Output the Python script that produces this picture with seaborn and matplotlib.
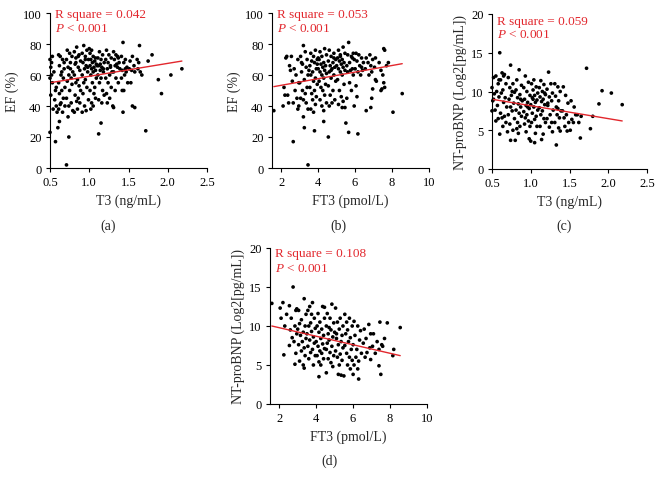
import matplotlib
matplotlib.use("Agg")
import matplotlib.pyplot as plt
import seaborn as sns
import pandas as pd

sns.set_theme(style="ticks")
plt.rcParams["font.family"] = ["Liberation Serif", "DejaVu Serif"]
plt.rcParams["mathtext.fontset"] = "custom"
plt.rcParams["mathtext.it"] = "Liberation Serif:italic"
plt.rcParams["mathtext.rm"] = "Liberation Serif"

# ---------------- data ----------------
# Panel (a): T3 vs EF
a_x = [0.50,0.52,0.51,0.55,0.50,0.53,0.57,0.51,0.56,0.58,0.54,0.59,0.50,0.57,0.60,0.53,0.52,0.58,
       0.61,0.63,0.66,0.62,0.68,0.64,0.67,0.61,0.69,0.65,0.62,0.67,0.64,0.69,0.61,0.66,0.62,0.63,0.65,0.68,
       0.72,0.75,0.78,0.71,0.76,0.73,0.79,0.74,0.77,0.72,0.78,0.75,0.71,0.77,0.74,0.79,0.73,0.74,0.71,0.76,
       0.84,0.81,0.87,0.83,0.89,0.82,0.86,0.88,0.81,0.85,0.83,0.87,0.89,0.82,0.86,0.84,0.88,0.85,0.81,0.83,0.86,
       0.93,0.97,0.91,0.95,0.99,0.92,0.96,0.94,0.98,0.91,0.95,0.93,0.97,0.92,0.99,0.94,0.96,0.91,0.98,0.95,
       1.00,1.03,1.01,1.05,1.02,1.07,1.04,1.09,1.01,1.06,1.03,1.08,1.05,1.02,1.09,1.04,1.07,1.01,1.06,1.08,1.03,1.05,1.02,1.08,1.10,
       1.13,1.17,1.11,1.15,1.19,1.12,1.16,1.14,1.18,1.11,1.15,1.13,1.17,1.19,1.12,1.16,1.15,1.12,1.14,1.18,
       1.22,1.25,1.28,1.21,1.24,1.27,1.23,1.29,1.26,1.21,1.24,1.28,1.22,1.26,1.23,1.27,
       1.31,1.34,1.37,1.32,1.38,1.35,1.33,1.36,1.39,1.31,1.34,1.37,1.33,1.30,1.31,1.36,
       1.43,1.41,1.46,1.44,1.48,1.42,1.47,1.45,1.41,1.49,1.42,1.44,1.43,1.46,
       1.55,1.52,1.57,1.51,1.54,1.58,1.53,1.55,1.58,
       1.64,1.61,1.63,1.62,1.65,1.67,
       1.80,1.75,1.72,1.88,1.92,2.04,2.18]
a_y = [70,68,65,62,58,55,50,47,44,40,38,36,23,17,26,72,60,52,
       73,72,70,66,64,60,58,55,52,50,48,45,42,40,38,36,30,41,62,68,
       76,74,72,70,68,65,62,60,58,56,54,50,45,42,40,37,33,20,2,64,
       78,75,73,71,69,67,65,63,60,57,55,53,50,47,45,43,42,38,36,68,72,
       79,76,74,72,70,68,66,64,62,60,57,55,52,48,44,40,37,36,65,70,
       77,76,74,72,70,69,68,67,66,65,64,63,62,60,58,55,52,50,48,45,42,40,38,71,66,
       75,73,71,70,68,66,65,63,62,60,58,55,50,47,44,42,29,22,67,64,
       76,73,71,70,68,66,64,62,60,58,55,52,48,45,42,65,
       75,73,71,70,68,67,66,65,64,62,58,55,50,40,39,72,
       81,72,70,68,65,63,62,60,58,55,50,50,36,64,
       72,69,66,64,63,62,55,40,39,
       79,70,68,64,62,60,
       73,69,24,57,48,60,64]

# Panel (b): FT3 vs EF
b_x = [1.60,
       2.25,2.45,2.15,2.20,2.35,2.40,2.10,2.30,
       2.55,2.90,2.70,2.80,2.60,2.95,2.75,2.85,2.65,2.95,2.90,2.65,2.50,
       3.20,3.30,3.05,3.40,3.15,3.35,3.10,3.45,3.25,3.00,3.40,3.15,3.30,3.05,3.20,3.35,3.45,3.20,3.25,3.45,3.10,
       3.85,3.60,3.75,3.95,3.65,3.80,3.55,3.90,3.70,3.60,3.85,3.75,3.95,3.55,3.80,3.65,3.90,3.70,3.85,3.60,3.75,3.80,3.95,3.50,
       4.35,4.10,4.45,4.20,4.05,4.30,4.15,4.40,4.25,4.00,4.35,4.10,4.45,4.20,4.30,4.05,4.40,4.15,4.25,4.35,4.10,4.45,4.20,4.30,4.30,4.00,
       4.60,4.85,4.70,4.95,4.55,4.80,4.65,4.90,4.75,4.60,4.85,4.70,4.95,4.55,4.80,4.65,4.90,4.75,4.60,4.55,4.85,4.70,
       5.35,5.10,5.45,5.20,5.05,5.30,5.15,5.40,5.25,5.00,5.35,5.10,5.45,5.20,5.30,5.05,5.40,5.15,5.25,5.35,5.10,5.30,5.45,5.50,5.20,
       5.65,5.90,5.60,5.80,5.95,5.70,5.55,5.85,5.75,5.60,5.90,5.70,5.80,5.55,5.95,5.65,5.85,
       6.05,6.20,6.35,6.10,6.45,6.25,6.00,6.40,6.15,6.30,6.05,6.10,6.15,6.35,
       6.80,6.60,6.95,6.70,6.85,6.55,6.90,6.75,6.95,6.90,6.85,6.60,
       7.10,7.30,7.05,7.40,7.10,7.15,7.45,7.40,
       7.55,7.60,7.80,7.70,7.50,7.55,7.60,
       8.05,8.55]
b_y = [37,
       71,66,52,47,47,42,40,72,
       72,70,64,60,56,55,50,45,42,40,38,17,63,
       79,75,72,70,67,65,62,60,57,55,52,50,48,45,44,42,38,33,26,2,68,
       76,74,72,70,69,68,66,64,62,60,58,56,54,52,50,48,46,44,41,38,36,24,67,63,
       77,75,73,72,70,68,67,66,65,64,63,62,61,60,58,56,54,52,50,47,44,42,40,37,30,71,
       76,74,72,70,69,68,66,65,64,62,60,58,56,53,50,47,44,42,40,20,71,63,
       78,76,74,72,71,70,69,68,67,66,65,64,63,62,60,57,54,50,46,43,41,39,39,29,73,
       81,74,73,72,70,68,66,64,63,62,60,55,50,45,40,23,71,
       74,73,71,69,68,66,64,63,62,60,53,46,22,65,
       73,71,70,68,66,64,62,60,51,45,39,37,
       71,68,65,63,57,56,51,50,
       77,76,68,66,60,55,52,
       36,48]

# Panel (c): T3 vs NT-proBNP
c_x = [0.55,0.52,0.58,0.50,0.56,0.53,0.59,0.51,0.57,0.54,0.50,0.58,0.55,0.59,0.52,
       0.60,0.63,0.66,0.61,0.68,0.64,0.62,0.67,0.65,0.69,0.61,0.66,0.63,0.68,0.64,0.60,0.65,
       0.74,0.71,0.77,0.73,0.79,0.75,0.72,0.78,0.74,0.76,0.71,0.79,0.73,0.77,0.70,0.74,0.76,
       0.85,0.82,0.88,0.81,0.86,0.83,0.89,0.84,0.87,0.81,0.85,0.88,0.83,0.86,0.82,0.84,0.80,0.87,
       0.93,0.97,0.91,0.95,0.99,0.92,0.96,0.94,0.98,0.91,0.95,0.93,0.97,0.92,0.99,0.94,0.98,0.96,
       1.04,1.01,1.07,1.03,1.09,1.05,1.02,1.08,1.06,1.00,1.04,1.09,1.02,1.07,1.05,1.01,1.08,1.06,1.00,1.05,1.03,
       1.13,1.17,1.11,1.15,1.19,1.12,1.16,1.14,1.18,1.11,1.15,1.13,1.17,1.19,1.12,1.16,1.14,1.18,
       1.23,1.26,1.21,1.28,1.24,1.27,1.22,1.29,1.25,1.21,1.27,1.24,1.28,1.22,
       1.31,1.35,1.38,1.32,1.36,1.33,1.39,1.34,1.37,1.31,1.36,1.38,1.33,1.35,
       1.42,1.45,1.48,1.41,1.46,1.43,1.49,1.44,1.47,
       1.52,1.56,1.58,1.53,1.55,1.51,
       1.60,1.65,1.64,1.62,
       1.72,1.77,1.80,1.88,1.92,2.04,2.18]
c_y = [12.0,11.8,11.0,10.5,10.0,9.7,9.3,8.8,8.2,7.6,7.5,6.5,6.2,11.5,9.0,
       15.0,12.4,12.2,11.5,11.0,10.2,9.8,9.2,8.6,8.0,7.2,6.8,6.6,6.0,5.5,4.5,12.0,
       13.4,11.8,11.0,10.5,9.9,9.5,9.0,8.5,8.0,7.5,7.0,6.5,5.8,5.0,4.8,3.7,10.0,
       12.8,11.5,10.8,10.2,9.6,9.2,8.8,8.4,8.0,7.6,7.2,6.8,6.0,5.5,5.2,4.6,3.7,9.0,
       12.0,11.2,10.5,10.0,9.5,9.0,8.6,8.2,7.8,7.4,7.0,6.6,6.2,5.8,5.5,4.8,3.9,8.0,
       11.5,11.0,10.6,10.2,9.8,9.5,9.2,8.9,8.6,8.3,8.0,7.6,7.2,6.8,6.4,6.0,5.5,4.6,3.6,3.4,9.0,
       11.4,10.9,10.5,10.0,9.6,9.3,9.0,8.7,8.3,7.9,7.5,7.0,6.5,6.0,5.5,4.5,3.8,9.8,
       12.5,11.0,10.3,9.8,9.3,8.8,8.2,7.6,7.0,6.5,6.0,5.4,4.8,8.5,
       11.0,10.6,10.0,9.4,8.8,8.0,7.5,7.0,6.6,6.0,5.3,4.9,3.1,7.8,
       10.6,9.5,8.5,7.5,7.0,6.6,6.0,5.5,4.9,
       8.8,8.0,7.0,6.4,6.0,5.0,
       7.0,6.8,4.0,6.0,
       13.0,5.2,6.8,8.4,10.1,9.8,8.3]

# Panel (d): FT3 vs NT-proBNP
d_x = [1.60,
       2.20,2.05,2.40,2.10,2.30,2.25,
       2.75,2.55,2.90,2.65,2.85,2.60,2.95,2.70,2.80,2.55,2.90,2.85,2.95,
       3.35,3.05,3.45,3.20,3.10,3.40,3.00,3.30,3.15,3.45,3.25,3.05,3.35,3.20,3.40,3.10,3.30,3.35,
       3.80,3.65,3.55,3.90,3.70,3.60,3.95,3.75,3.50,3.85,3.65,3.90,3.55,3.80,3.70,3.95,3.60,3.85,3.75,
       4.35,4.10,4.45,4.20,4.05,4.30,4.15,4.40,4.25,4.00,4.35,4.10,4.45,4.20,4.30,4.05,4.40,4.15,4.25,4.15,4.45,
       4.85,4.60,4.75,4.95,4.55,4.80,4.65,4.90,4.70,4.60,4.85,4.55,4.75,4.95,4.65,4.80,4.90,4.55,4.70,
       5.05,5.30,5.15,5.45,5.25,5.00,5.40,5.10,5.35,5.20,5.45,5.05,5.30,5.15,5.40,5.25,5.20,5.35,5.10,
       5.55,5.80,5.65,5.95,5.70,5.60,5.85,5.75,5.55,5.90,5.65,5.80,5.95,5.70,5.85,5.50,
       6.05,6.25,6.40,6.10,6.35,6.00,6.20,6.45,6.15,6.30,6.05,6.25,6.00,6.30,
       6.85,6.60,6.95,6.70,6.55,6.90,6.75,6.65,6.95,
       7.10,7.30,7.05,7.40,7.20,7.40,7.45,
       7.85,7.70,7.55,7.60,7.50,
       8.15,8.20,8.55]
d_y = [12.9,
       13.0,12.3,11.5,11.0,10.0,6.3,
       15.0,12.6,12.0,11.0,10.0,9.5,9.0,8.5,8.0,7.5,6.5,5.1,12.2,
       13.5,12.0,11.5,10.8,10.3,10.0,9.6,9.2,8.8,8.4,8.0,7.6,7.2,6.8,6.2,5.5,5.0,4.6,
       13.0,12.5,12.0,11.0,10.4,10.0,9.7,9.3,9.0,8.6,8.2,7.8,7.4,7.0,6.6,6.2,5.8,5.0,11.5,
       12.5,11.6,11.0,10.5,10.0,9.6,9.2,8.8,8.4,8.0,7.7,7.4,7.1,6.8,6.5,6.2,5.8,5.4,5.0,3.5,12.4,
       12.8,11.6,11.0,10.4,10.0,9.5,9.0,8.6,8.2,7.8,7.4,7.0,6.6,6.2,5.8,5.3,4.8,4.0,9.8,
       12.3,11.0,10.5,10.0,9.6,9.2,8.8,8.4,8.0,7.6,7.2,6.8,6.4,6.0,5.6,5.0,3.8,3.7,9.0,
       11.5,11.0,10.5,10.0,9.5,9.0,8.5,8.0,7.5,7.0,6.5,6.0,5.6,5.0,4.5,3.6,
       10.6,10.0,9.4,8.8,8.2,7.6,7.0,6.5,6.0,5.5,5.0,4.5,3.8,3.2,
       10.2,9.6,9.0,8.4,7.8,7.2,6.6,6.0,5.7,
       9.0,8.0,7.4,7.0,6.5,4.9,10.5,
       10.4,8.4,7.6,7.4,3.8,
       6.2,7.0,9.8]

# Regression-line end points (as printed in the figure)
fit_a_x, fit_a_y = [0.5, 2.18], [55.0, 69.0]
fit_b_x, fit_b_y = [1.6, 8.55], [52.5, 67.3]
fit_c_x, fit_c_y = [0.5, 2.18], [9.0, 6.2]
fit_d_x, fit_d_y = [1.6, 8.55], [10.0, 6.2]

r2_labels = ["R square = 0.042", "R square = 0.053", "R square = 0.059", "R square = 0.108"]
panel_tags = ["(a)", "(b)", "(c)", "(d)"]
x_titles = ["T3 (ng/mL)", "FT3 (pmol/L)", "T3 (ng/mL)", "FT3 (pmol/L)"]
y_titles = ["EF (%)", "EF (%)", "NT-proBNP (Log2[pg/mL])", "NT-proBNP (Log2[pg/mL])"]
t3_ticks = [0.5, 1.0, 1.5, 2.0, 2.5]
ft3_ticks = [2, 4, 6, 8, 10]
ef_ticks = [0, 20, 40, 60, 80, 100]
nt_ticks = [0, 5, 10, 15, 20]

# ---------------- figure ----------------
W, H = 664, 489
fig = plt.figure(figsize=(W / 100, H / 100), dpi=100)
fig.patch.set_facecolor("white")

RED = "#e2272d"
FS_LABEL = 10
FS_TICK = 9
FS_NOTE = 9.5

def px_axes(l, t, r, b):
    return fig.add_axes([l / W, 1 - b / H, (r - l) / W, (b - t) / H])

panels = [
    dict(box=(50, 14, 207, 169), x=a_x, y=a_y, fx=fit_a_x, fy=fit_a_y,
         xlim=(0.5, 2.5), ylim=(0, 100), xt=t3_ticks, yt=ef_ticks,
         xfmt="{:.1f}", ty=(0.995, 0.905), tag_xy=(108, 226)),
    dict(box=(272, 14, 429, 169), x=b_x, y=b_y, fx=fit_b_x, fy=fit_b_y,
         xlim=(1.5, 10), ylim=(0, 100), xt=ft3_ticks, yt=ef_ticks,
         xfmt="{:d}", ty=(0.995, 0.905), tag_xy=(338, 226)),
    dict(box=(492, 15, 647, 170), x=c_x, y=c_y, fx=fit_c_x, fy=fit_c_y,
         xlim=(0.5, 2.5), ylim=(0, 20), xt=t3_ticks, yt=nt_ticks,
         xfmt="{:.1f}", ty=(0.955, 0.87), tag_xy=(564, 226)),
    dict(box=(270, 249, 427, 405), x=d_x, y=d_y, fx=fit_d_x, fy=fit_d_y,
         xlim=(1.5, 10), ylim=(0, 20), xt=ft3_ticks, yt=nt_ticks,
         xfmt="{:d}", ty=(0.965, 0.87), tag_xy=(329, 461)),
]

for i, p in enumerate(panels):
    ax = px_axes(*p["box"])
    df = pd.DataFrame({"x": p["x"], "y": p["y"]})
    sns.scatterplot(data=df, x="x", y="y", ax=ax, s=7, color="black",
                    linewidth=0, edgecolor="none", clip_on=False)
    fit = pd.DataFrame({"x": p["fx"], "y": p["fy"]})
    sns.lineplot(data=fit, x="x", y="y", ax=ax, color=RED, linewidth=1.0)
    ax.set_xlim(*p["xlim"])
    ax.set_ylim(*p["ylim"])
    ax.set_xticks(p["xt"])
    ax.set_xticklabels([p["xfmt"].format(v) for v in p["xt"]])
    ax.set_yticks(p["yt"])
    ax.set_yticklabels([str(v) for v in p["yt"]])
    ax.set_xlabel(x_titles[i], fontsize=FS_LABEL, labelpad=4)
    ax.set_ylabel(y_titles[i], fontsize=FS_LABEL, labelpad=3)
    ax.tick_params(axis="both", labelsize=FS_TICK, direction="out", length=3, width=0.8,
                   pad=3, color="black", labelcolor="black")
    for s in ["top", "right"]:
        ax.spines[s].set_visible(False)
    for s in ["left", "bottom"]:
        ax.spines[s].set_linewidth(0.8)
        ax.spines[s].set_color("black")
    ax.set_facecolor("white")
    ax.grid(False)
    ax.text(0.035, p["ty"][0], r2_labels[i], transform=ax.transAxes, color=RED,
            fontsize=FS_NOTE, va="center", ha="left")
    ax.text(0.035, p["ty"][1], r"$\mathit{P}$ < 0.001", transform=ax.transAxes,
            color=RED, fontsize=FS_NOTE, va="center", ha="left")
    fig.text(p["tag_xy"][0] / W, 1 - p["tag_xy"][1] / H, panel_tags[i],
             fontsize=FS_LABEL, ha="center", va="center")

fig.savefig("out.png", dpi=100, facecolor="white")
